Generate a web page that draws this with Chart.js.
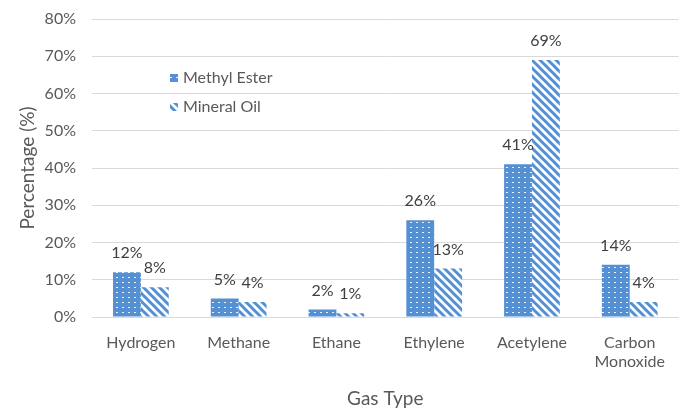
<!DOCTYPE html>
<html>
<head>
<meta charset="utf-8">
<script src="https://cdn.jsdelivr.net/npm/chart.js@4.4.1/dist/chart.umd.min.js"></script>
<style>
  html, body { margin: 0; padding: 0; background: #ffffff; }
  #wrap { width: 681px; height: 410px; position: relative; }
</style>
</head>
<body>
<div id="wrap"><canvas id="c" width="681" height="410"></canvas></div>
<script>
// Gas composition by fault type
const gasTypes = ['Hydrogen', 'Methane', 'Ethane', 'Ethylene', 'Acetylene', ['Carbon', 'Monoxide']];
const methylEster = [12, 5, 2, 26, 41, 14];
const mineralOil = [8, 4, 1, 13, 69, 4];
const seriesNames = ['Methyl Ester', 'Mineral Oil'];
const yTicks = [0, 10, 20, 30, 40, 50, 60, 70, 80];

const BLUE = '#5590d3';
const FONT = 'Lato, "Open Sans", sans-serif';

// White dot fill for the first series
function dotPattern() {
  const c = document.createElement('canvas');
  c.width = 6; c.height = 5;
  const g = c.getContext('2d');
  g.fillStyle = BLUE; g.fillRect(0, 0, 6, 5);
  g.fillStyle = 'rgba(255,255,255,0.9)';
  g.fillRect(2, 2, 2, 1);
  return g.createPattern(c, 'repeat');
}

// Wide downward diagonal stripes for the second series
function stripePattern() {
  const c = document.createElement('canvas');
  const s = 8;
  c.width = s; c.height = s;
  const g = c.getContext('2d');
  g.fillStyle = '#ffffff'; g.fillRect(0, 0, s, s);
  g.strokeStyle = BLUE; g.lineWidth = 3;
  g.beginPath();
  g.moveTo(-s, 0); g.lineTo(s, 2 * s);
  g.moveTo(0, 0); g.lineTo(s, s);
  g.moveTo(0, -s); g.lineTo(2 * s, s);
  g.stroke();
  return g.createPattern(c, 'repeat');
}

const fills = [dotPattern(), stripePattern()];

// Percent labels above each bar
const valueLabels = {
  id: 'valueLabels',
  afterDatasetsDraw(chart) {
    const ctx = chart.ctx;
    ctx.save();
    ctx.font = '16px ' + FONT;
    ctx.fillStyle = '#404040';
    ctx.textAlign = 'center';
    ctx.textBaseline = 'middle';
    chart.data.datasets.forEach((ds, i) => {
      chart.getDatasetMeta(i).data.forEach((bar, j) => {
        ctx.fillText(ds.data[j] + '%', bar.x, bar.y - 19);
      });
    });
    ctx.restore();
  }
};

// Legend placed inside the plot area
const innerLegend = {
  id: 'innerLegend',
  afterDraw(chart) {
    const ctx = chart.ctx;
    ctx.save();
    ctx.font = '16px ' + FONT;
    ctx.textBaseline = 'middle';
    const x = 170, ys = [78, 107];
    seriesNames.forEach((name, i) => {
      ctx.fillStyle = fills[i];
      ctx.fillRect(x, ys[i] - 4, 8, 8);
      ctx.fillStyle = '#595959';
      ctx.fillText(name, x + 13, ys[i]);
    });
    ctx.restore();
  }
};

new Chart(document.getElementById('c'), {
  type: 'bar',
  data: {
    labels: gasTypes,
    datasets: [
      { label: seriesNames[0], data: methylEster, backgroundColor: fills[0], borderWidth: 0 },
      { label: seriesNames[1], data: mineralOil, backgroundColor: fills[1], borderWidth: 0 }
    ]
  },
  options: {
    responsive: false,
    animation: false,
    devicePixelRatio: 1,
    layout: { padding: { top: 19, right: 0, left: 0, bottom: 0 } },
    plugins: { legend: { display: false }, tooltip: { enabled: false } },
    datasets: { bar: { categoryPercentage: 0.57, barPercentage: 1 } },
    scales: {
      x: {
        afterFit(axis) { axis.height = 93; },
        grid: { display: false, drawTicks: false },
        border: { display: true, color: '#d9d9d9', width: 1 },
        ticks: { color: '#595959', font: { family: FONT, size: 16 }, padding: 16, maxRotation: 0, autoSkip: false },
        title: { display: true, text: 'Gas Type', color: '#595959', font: { family: FONT, size: 19 }, padding: { top: 8, bottom: 0 } }
      },
      y: {
        min: 0, max: 80,
        afterFit(axis) { axis.width = 92; axis.paddingTop = 0; axis.paddingBottom = 0; },
        afterBuildTicks(axis) { axis.ticks = yTicks.map(v => ({ value: v })); },
        grid: { color: '#d9d9d9', drawTicks: false },
        border: { display: false },
        ticks: { color: '#595959', font: { family: FONT, size: 16 }, padding: 16, callback: v => v + '%' },
        title: { display: true, text: 'Percentage (%)', color: '#595959', font: { family: FONT, size: 19 }, padding: { top: 16, bottom: 2 } }
      }
    }
  },
  plugins: [valueLabels, innerLegend]
});
</script>
</body>
</html>
